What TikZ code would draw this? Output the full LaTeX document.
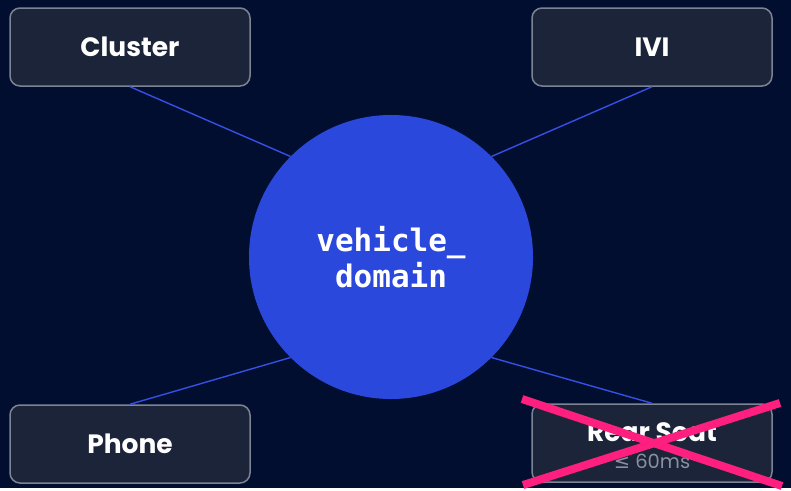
\documentclass[tikz,border=0pt]{standalone}
\usepackage{fontspec}
\setmainfont{Poppins}
\newfontfamily\monofont{DejaVu Sans Mono}
\newfontfamily\symfont{DejaVu Sans}
\definecolor{bgnavy}{HTML}{020E30}
\definecolor{boxfill}{HTML}{1C2439}
\definecolor{boxline}{HTML}{7C8394}
\definecolor{domainblue}{HTML}{2B48DD}
\definecolor{linkblue}{HTML}{3550E6}
\definecolor{crosspink}{HTML}{FF1F7E}
\definecolor{latgray}{HTML}{8A90A0}
\begin{document}
\begin{tikzpicture}[x=1pt,y=-1pt,
  ecu/.style={draw=boxline, fill=boxfill, rounded corners=10pt, line width=1.5pt,
    minimum width=240pt, minimum height=78pt, inner sep=0pt,
    text=white, font=\bfseries\fontsize{26.5}{30}\selectfont},
  link/.style={draw=linkblue, line width=1.4pt},
  strike/.style={draw=crosspink, line width=8pt}]
\fill[bgnavy] (0,0) rectangle (791,488);
% domain in the middle
\node[circle, fill=domainblue, minimum size=284pt, inner sep=0pt, align=center,
  text=white, font=\monofont\bfseries\fontsize{31}{36}\selectfont] (domain) at (391,257) {vehicle\_\\domain};
% the four screens
\node[ecu] (cluster) at (130,47) {Cluster};
\node[ecu] (ivi) at (652,47) {IVI};
\node[ecu] (phone) at (130,444) {Phone};
\node[ecu] (rear) at (652,443) {};
\node[text=white, font=\bfseries\fontsize{26.5}{30}\selectfont] (rearname) at (652,432) {Rear Seat};
\node[text=latgray, font=\fontsize{19.5}{23}\selectfont] (rearlat) at (652,461) {{\symfont ≤} 60ms};
\draw[link] (cluster.south) -- (domain.north west);
\draw[link] (ivi.south) -- (domain.north east);
\draw[link] (phone.north) -- (domain.south west);
\draw[link] (rear.north) -- (domain.south east);
% rear seat is crossed out
\draw[strike] (522,399) -- (782,486);
\draw[strike] (523,485) -- (780,403);
\end{tikzpicture}
\end{document}
